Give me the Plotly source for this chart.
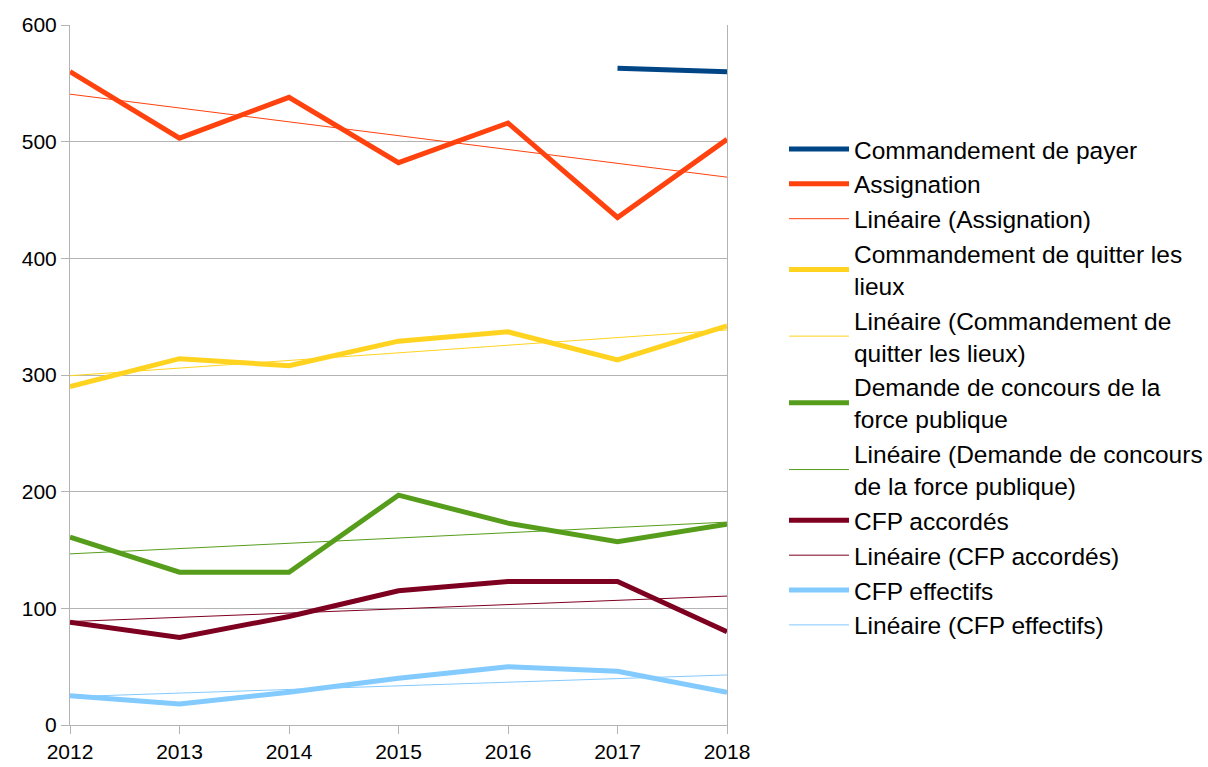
import numpy as np
import plotly.graph_objects as go

years = [2012, 2013, 2014, 2015, 2016, 2017, 2018]
commandement_payer = [None, None, None, None, None, 563, 560]
assignation = [560, 503, 538, 482, 516, 435, 502]
commandement_quitter = [290, 314, 308, 329, 337, 313, 342]
demande_concours = [161, 131, 131, 197, 173, 157, 172]
cfp_accordes = [88, 75, 93, 115, 123, 123, 80]
cfp_effectifs = [25, 18, 28, 40, 50, 46, 28]

series = [
    ("Commandement de payer", None, commandement_payer, "#004586", False),
    ("Assignation", "Linéaire (Assignation)", assignation, "#ff420e", True),
    ("Commandement de quitter les<br>lieux", "Linéaire (Commandement de<br>quitter les lieux)",
     commandement_quitter, "#ffd320", True),
    ("Demande de concours de la<br>force publique", "Linéaire (Demande de concours<br>de la force publique)",
     demande_concours, "#579d1c", True),
    ("CFP accordés", "Linéaire (CFP accordés)", cfp_accordes, "#7e0021", True),
    ("CFP effectifs", "Linéaire (CFP effectifs)", cfp_effectifs, "#83caff", True),
]

fig = go.Figure()
for name, tname, vals, color, trend in series:
    fig.add_trace(go.Scatter(x=years, y=vals, name=name, mode="lines",
                             line=dict(color=color, width=5), connectgaps=False))
    if trend:
        xa = np.array(years, dtype=float)
        ya = np.array(vals, dtype=float)
        k, b = np.polyfit(xa, ya, 1)
        fig.add_trace(go.Scatter(x=years, y=(k * xa + b).tolist(), name=tname, mode="lines",
                                 line=dict(color=color, width=1)))

tickfont = dict(family="Liberation Sans", size=21, color="black")

fig.update_layout(
    width=1208, height=767,
    margin=dict(l=70, r=481, t=25, b=42, autoexpand=False),
    paper_bgcolor="white", plot_bgcolor="white",
    font=dict(family="Liberation Sans", size=24.5, color="black"),
    legend=dict(xref="container", yref="container", x=0.649, xanchor="left",
                y=0.835, yanchor="top", maxheight=700,
                font=dict(family="Liberation Sans", size=24.5, color="black"),
                itemwidth=60, tracegroupgap=0, bgcolor="rgba(0,0,0,0)"),
    xaxis=dict(range=[2012, 2018], tickmode="array", tickvals=years,
               ticktext=[str(y) for y in years], showgrid=False,
               ticks="outside", ticklen=8, tickcolor="#b3b3b3",
               showline=True, linecolor="#b3b3b3", linewidth=1,
               tickfont=tickfont, zeroline=False, automargin=False),
    yaxis=dict(range=[0, 600], dtick=100, showgrid=True, gridcolor="#b3b3b3",
               ticks="outside", ticklen=8, tickcolor="#b3b3b3",
               showline=True, mirror=True, linecolor="#b3b3b3", linewidth=1,
               tickfont=tickfont, zeroline=False, automargin=False),
)

fig.write_html("out.html", config={"displayModeBar": False},
               post_script="document.body.style.margin='0';document.body.style.overflow='hidden';")
